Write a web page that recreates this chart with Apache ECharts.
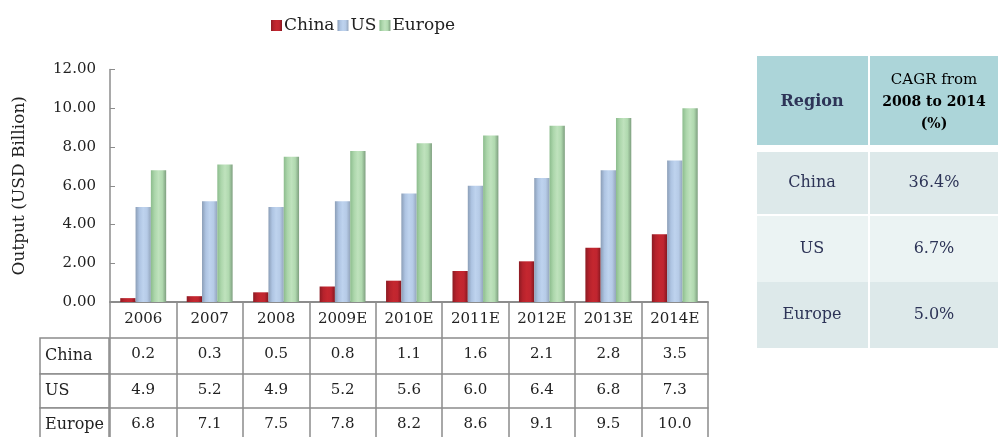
<!DOCTYPE html>
<html>
<head>
<meta charset="utf-8">
<script src="https://cdn.jsdelivr.net/npm/echarts@6/dist/echarts.min.js"></script>
<style>
  html, body { margin: 0; padding: 0; background: #fff; }
  #main { width: 1000px; height: 437px; }
</style>
</head>
<body>
<div id="main"></div>
<script>
var categories = ['2006', '2007', '2008', '2009E', '2010E', '2011E', '2012E', '2013E', '2014E'];
var china = [0.2, 0.3, 0.5, 0.8, 1.1, 1.6, 2.1, 2.8, 3.5];
var us = [4.9, 5.2, 4.9, 5.2, 5.6, 6.0, 6.4, 6.8, 7.3];
var europe = [6.8, 7.1, 7.5, 7.8, 8.2, 8.6, 9.1, 9.5, 10.0];
var seriesNames = ['China', 'US', 'Europe'];
var yTicks = [0, 2, 4, 6, 8, 10, 12];
var cagrRegions = ['China', 'US', 'Europe'];
var cagrValues = ['36.4%', '6.7%', '5.0%'];

var chart = echarts.init(document.getElementById('main'));
var font = 'DejaVu Serif';
var lineGrey = '#8c8c8c';
var txt = '#222';

function grad(stops) {
    return new echarts.graphic.LinearGradient(0, 0, 1, 0, stops.map(function (c, i) {
        return { offset: i / (stops.length - 1), color: c };
    }));
}
var redFill = grad(['#8c1b23', '#b6222c', '#c4272f', '#c02530', '#86171f']);
var blueFill = grad(['#8b9eb7', '#aec4e2', '#bed3ee', '#b6cbe7', '#93a5bc']);
var greenFill = grad(['#8cbc8d', '#acd6ab', '#bfe2bd', '#b0d9af', '#7e9f7f']);

// data table rows under the axis: values, offset, tick length
var tableRows = [
    { data: china, offset: 36, len: 36 },
    { data: us, offset: 72, len: 34 },
    { data: europe, offset: 106, len: 34 }
];

var tickStyle = { color: lineGrey, width: 1.5 };
var xAxes = [{
    type: 'category',
    data: categories,
    position: 'bottom',
    axisLine: { lineStyle: { color: lineGrey, width: 2 } },
    axisTick: { show: true, interval: 0, alignWithLabel: false, length: 36, lineStyle: tickStyle },
    axisLabel: { interval: 0, margin: 10, fontFamily: font, fontSize: 15, color: txt }
}];
tableRows.forEach(function (r) {
    xAxes.push({
        type: 'category',
        data: r.data.map(function (v) { return v.toFixed(1); }),
        position: 'bottom',
        offset: r.offset,
        axisLine: { show: true, lineStyle: { color: lineGrey, width: 1.5 } },
        axisTick: { show: true, interval: 0, alignWithLabel: false, length: r.len, lineStyle: tickStyle },
        axisLabel: { interval: 0, margin: 9, fontFamily: font, fontSize: 15, color: txt }
    });
});

// left label column of the data table
var graphics = [];
var rowTops = [338, 374, 408];
var rowHs = [36, 34, 34];
seriesNames.forEach(function (n, i) {
    graphics.push({
        type: 'rect',
        shape: { x: 40, y: rowTops[i], width: 69, height: rowHs[i] },
        style: { fill: '#fff', stroke: lineGrey, lineWidth: 1.5 }
    });
    graphics.push({
        type: 'text',
        x: 45, y: rowTops[i] + rowHs[i] / 2,
        style: { text: n, font: '16px "' + font + '"', fill: txt, verticalAlign: 'middle' }
    });
});

// CAGR table on the right
var navy = '#2d3457';
graphics.push({ type: 'rect', shape: { x: 757, y: 56, width: 111, height: 89 }, style: { fill: '#acd5d9' } });
graphics.push({ type: 'rect', shape: { x: 870, y: 56, width: 128, height: 89 }, style: { fill: '#acd5d9' } });
graphics.push({
    type: 'text', x: 812, y: 102,
    style: { text: 'Region', font: 'bold 16px "' + font + '"', fill: navy, align: 'center', verticalAlign: 'middle' }
});
graphics.push({
    type: 'text', x: 934, y: 102,
    style: {
        text: '{n|CAGR from}\n{b|2008 to 2014}\n{b|(%)}',
        align: 'center', verticalAlign: 'middle',
        rich: {
            n: { fontFamily: font, fontSize: 15, color: navy, lineHeight: 22, align: 'center' },
            b: { fontFamily: font, fontSize: 14, fontWeight: 'bold', color: navy, lineHeight: 22, align: 'center' }
        }
    }
});
var cagrTops = [152, 216, 282];
var cagrHs = [62, 66, 66];
var cagrFills = ['#dde9ea', '#ebf3f3', '#dde9ea'];
cagrRegions.forEach(function (r, i) {
    graphics.push({ type: 'rect', shape: { x: 757, y: cagrTops[i], width: 111, height: cagrHs[i] }, style: { fill: cagrFills[i] } });
    graphics.push({ type: 'rect', shape: { x: 870, y: cagrTops[i], width: 128, height: cagrHs[i] }, style: { fill: cagrFills[i] } });
    graphics.push({
        type: 'text', x: 812, y: cagrTops[i] + cagrHs[i] / 2,
        style: { text: r, font: '16px "' + font + '"', fill: navy, align: 'center', verticalAlign: 'middle' }
    });
    graphics.push({
        type: 'text', x: 934, y: cagrTops[i] + cagrHs[i] / 2,
        style: { text: cagrValues[i], font: '16px "' + font + '"', fill: navy, align: 'center', verticalAlign: 'middle' }
    });
});

function bar(name, data, fill) {
    return {
        name: name,
        type: 'bar',
        data: data,
        xAxisIndex: 0,
        barWidth: 15.3,
        barGap: '0%',
        itemStyle: { color: fill },
        z: 3
    };
}

var option = {
    animation: false,
    backgroundColor: '#fff',
    textStyle: { fontFamily: font },
    legend: {
        top: 12,
        left: 266,
        icon: 'rect',
        itemWidth: 11,
        itemHeight: 11,
        itemGap: 3,
        textStyle: { fontFamily: font, fontSize: 17, color: txt, padding: [0, 0, 0, -3] },
        data: seriesNames
    },
    grid: { left: 110, right: 292, top: 69.5, bottom: 135, containLabel: false, outerBoundsMode: 'none' },
    xAxis: xAxes,
    yAxis: {
        type: 'value',
        min: yTicks[0],
        max: yTicks[yTicks.length - 1],
        interval: 2,
        name: 'Output (USD Billion)',
        nameLocation: 'middle',
        nameRotate: 90,
        nameGap: 82,
        nameTextStyle: { fontFamily: font, fontSize: 17, color: txt },
        axisLine: { show: true, lineStyle: { color: lineGrey, width: 1.5 } },
        axisTick: { show: true, inside: true, length: 5, lineStyle: { color: lineGrey } },
        splitLine: { show: false },
        axisLabel: {
            margin: 14, fontFamily: font, fontSize: 15, color: txt,
            formatter: function (v) { return v.toFixed(2); }
        }
    },
    series: [
        bar('China', china, redFill),
        bar('US', us, blueFill),
        bar('Europe', europe, greenFill)
    ],
    graphic: graphics
};
chart.setOption(option);
window.onresize = chart.resize;
</script>
</body>
</html>
